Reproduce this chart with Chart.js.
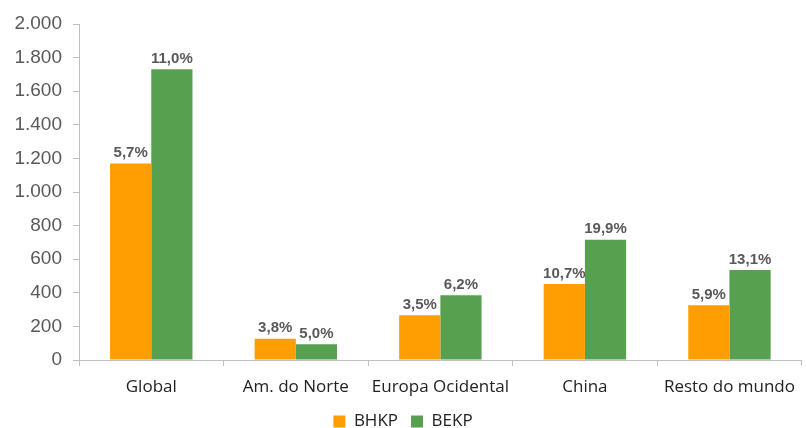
<!DOCTYPE html>
<html>
<head>
<meta charset="utf-8">
<script src="https://cdn.jsdelivr.net/npm/chart.js@4"></script>
<style>
html,body{margin:0;padding:0;background:#fff;}
#wrap{width:806px;height:428px;position:relative;}
</style>
</head>
<body>
<div id="wrap"><canvas id="c" width="806" height="428"></canvas></div>
<script>
const categories = ["Global", "Am. do Norte", "Europa Ocidental", "China", "Resto do mundo"];
const bhkpValues = [1170, 127, 267, 452, 326];
const bekpValues = [1731, 94, 386, 716, 535];
const bhkpLabels = ["5,7%", "3,8%", "3,5%", "10,7%", "5,9%"];
const bekpLabels = ["11,0%", "5,0%", "6,2%", "19,9%", "13,1%"];
const yTicks = [0, 200, 400, 600, 800, 1000, 1200, 1400, 1600, 1800, 2000];

const labelPlugin = {
  id: 'barLabels',
  afterDatasetsDraw(chart) {
    const ctx = chart.ctx;
    ctx.save();
    ctx.font = 'bold 15px "Liberation Sans", Arial, sans-serif';
    ctx.fillStyle = '#595959';
    ctx.textAlign = 'center';
    ctx.textBaseline = 'bottom';
    chart.data.datasets.forEach((ds, di) => {
      const meta = chart.getDatasetMeta(di);
      meta.data.forEach((bar, i) => {
        ctx.fillText(ds.pctLabels[i], bar.x, bar.y - 3);
      });
    });
    ctx.restore();
  }
};

function fmt(v) {
  return v.toString().replace(/\B(?=(\d{3})+(?!\d))/g, '.');
}

new Chart(document.getElementById('c'), {
  type: 'bar',
  data: {
    labels: categories,
    datasets: [
      { label: 'BHKP', data: bhkpValues, pctLabels: bhkpLabels, backgroundColor: '#FF9E00', borderWidth: 0 },
      { label: 'BEKP', data: bekpValues, pctLabels: bekpLabels, backgroundColor: '#57A050', borderWidth: 0 }
    ]
  },
  options: {
    responsive: false,
    animation: false,
    devicePixelRatio: 1,
    layout: { padding: { top: 24, right: 0, left: 0, bottom: -12 } },
    datasets: { bar: { categoryPercentage: 0.57, barPercentage: 1.0 } },
    plugins: {
      legend: {
        position: 'bottom',
        labels: {
          boxWidth: 12, boxHeight: 12, padding: 13,
          color: '#222',
          font: { family: '"Open Sans", sans-serif', size: 17 }
        }
      },
      tooltip: { enabled: false }
    },
    scales: {
      y: {
        min: 0, max: 2000,
        afterBuildTicks(scale) { scale.ticks = yTicks.map(v => ({ value: v })); },
        afterFit(scale) { scale.width = 79; },
        ticks: {
          padding: 11,
          color: '#595959',
          font: { family: '"Liberation Sans", Arial, sans-serif', size: 19 },
          callback: (v) => fmt(v)
        },
        grid: { drawOnChartArea: false, drawTicks: true, tickLength: 6, color: '#bfbfbf' },
        border: { color: '#bfbfbf' }
      },
      x: {
        afterFit(scale) { scale.height = 40; },
        ticks: {
          padding: 11,
          color: '#222',
          font: { family: '"Open Sans", sans-serif', size: 17 }
        },
        grid: { drawOnChartArea: false, drawTicks: true, tickLength: 6, offset: true, color: '#bfbfbf' },
        border: { color: '#bfbfbf' }
      }
    }
  },
  plugins: [labelPlugin]
});
</script>
</body>
</html>
